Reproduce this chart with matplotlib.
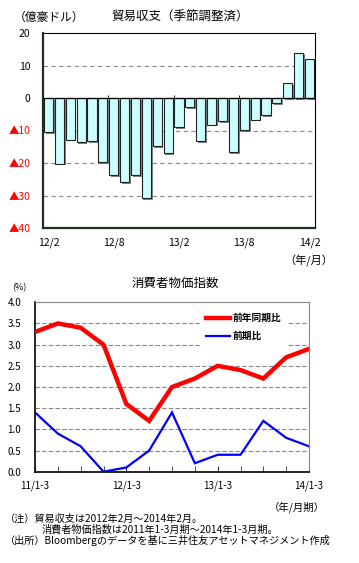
import matplotlib
matplotlib.use("Agg")
import matplotlib.pyplot as plt
import matplotlib.patheffects as pe
import numpy as np

plt.rcParams["font.family"] = ["Noto Sans CJK JP", "DejaVu Sans"]

# ── データ ────────────────────────────────────────────
meses      = ["12/2", "12/3", "12/4", "12/5", "12/6", "12/7", "12/8", "12/9",
              "12/10", "12/11", "12/12", "13/1", "13/2", "13/3", "13/4", "13/5",
              "13/6", "13/7", "13/8", "13/9", "13/10", "13/11", "13/12", "14/1",
              "14/2"]
balanza    = [-10.5, -20.2, -12.8, -13.5, -13.2, -19.7, -23.7, -25.8, -23.7,
              -30.9, -14.9, -16.9, -8.9, -2.8, -13.2, -8.2, -7.2, -16.7,
              -9.8, -6.7, -5.2, -1.5, 4.6, 14.0, 12.0]
meses_tick = ["12/2", "12/8", "13/2", "13/8", "14/2"]
y_ticks1   = [20, 10, 0, -10, -20, -30, -40]
y_labels1  = ["20", "10", "0", "▲10", "▲20", "▲30", "▲40"]

trimestres   = ["11/1-3", "11/4-6", "11/7-9", "11/10-12", "12/1-3", "12/4-6",
                "12/7-9", "12/10-12", "13/1-3", "13/4-6", "13/7-9", "13/10-12",
                "14/1-3"]
ipc_anual    = [3.3, 3.5, 3.4, 3.0, 1.6, 1.2, 2.0, 2.2, 2.5, 2.4, 2.2, 2.7, 2.9]
ipc_trim     = [1.4, 0.9, 0.6, 0.0, 0.1, 0.5, 1.4, 0.2, 0.4, 0.4, 1.2, 0.8, 0.6]
trim_tick    = ["11/1-3", "12/1-3", "13/1-3", "14/1-3"]

C_BARRA = "#ccffff"
C_GRID  = "#888888"

fig = plt.figure(figsize=(3.59, 5.63), dpi=100, facecolor="white")

# ── Grafica 1: balanza comercial ──────────────────────
ax1 = fig.add_axes([43 / 359, 1 - 228 / 563, 272 / 359, 195 / 563])
x1 = np.arange(len(balanza))
ax1.set_xlim(-0.5, len(balanza) - 0.5)
ax1.set_ylim(-40, 20)
for v in [10, -10, -20, -30]:
    ax1.axhline(v, color=C_GRID, linewidth=0.8, linestyle=(0, (4, 3)), zorder=1)
ax1.bar(x1, balanza, width=0.84, color=C_BARRA, edgecolor="#222222",
        linewidth=0.8, zorder=3,
        path_effects=[pe.SimplePatchShadow(offset=(1.2, -1.2),
                                           shadow_rgbFace="#777777", alpha=0.9),
                      pe.Normal()])
ax1.axhline(0, color="black", linewidth=0.9, zorder=4)
idx_tick = [meses.index(m) for m in meses_tick]
for i in idx_tick[1:-1]:
    ax1.vlines(i - 0.5, 0, 1.0, color="#333333", linewidth=0.8, zorder=4)
ax1.set_xticks(idx_tick)
ax1.set_xticklabels(meses_tick, fontsize=7.5)
ax1.set_yticks(y_ticks1)
ax1.set_yticklabels(y_labels1, fontsize=7.5)
for lab, v in zip(ax1.get_yticklabels(), y_ticks1):
    if v < 0:
        lab.set_color("#ff0000")
ax1.tick_params(axis="both", length=0)
ax1.tick_params(axis="y", pad=9)
ax1.tick_params(axis="x", pad=7)
for s in ["left", "bottom"]:
    ax1.spines[s].set_linewidth(1.6)
    ax1.spines[s].set_color("#1f2f1f")
for s in ["top", "right"]:
    ax1.spines[s].set_linewidth(0.8)
fig.text(14 / 359, 1 - 17 / 563, "（億豪ドル）", fontsize=8.5, va="center")
fig.text(180 / 359, 1 - 17 / 563, "貿易収支（季節調整済）", fontsize=9,
         ha="center", va="center")
fig.text(333 / 359, 1 - 261 / 563, "（年/月）", fontsize=8, ha="right", va="center")

# ── Grafica 2: IPC ────────────────────────────────────
ax2 = fig.add_axes([35 / 359, 1 - 471.7 / 563, 274 / 359, 169.4 / 563])
x2 = np.arange(len(trimestres))
ax2.set_xlim(0, len(trimestres) - 1)
ax2.set_ylim(0, 4.0)
for v in np.arange(0.5, 4.0, 0.5):
    ax2.axhline(v, color=C_GRID, linewidth=0.8, linestyle=(0, (4, 2)), zorder=1)
ax2.plot(x2, ipc_anual, color="#ff0000", linewidth=3.2, label="前年同期比",
         solid_joinstyle="miter", zorder=3)
ax2.plot(x2, ipc_trim, color="#0000ff", linewidth=1.6, label="前期比",
         solid_joinstyle="miter", zorder=3)
ax2.set_yticks(np.arange(0, 4.01, 0.5))
ax2.set_yticklabels([f"{v:.1f}" for v in np.arange(0, 4.01, 0.5)], fontsize=7)
ax2.set_xticks(x2, minor=True)
ax2.set_xticks([trimestres.index(t) for t in trim_tick])
ax2.set_xticklabels(trim_tick, fontsize=7)
ax2.tick_params(axis="x", which="both", direction="in", length=4, color="#333333")
ax2.tick_params(axis="y", length=0, pad=10)
ax2.tick_params(axis="x", pad=6)
for s in ["left", "bottom"]:
    ax2.spines[s].set_linewidth(1.2)
for s in ["top", "right"]:
    ax2.spines[s].set_color(C_GRID)
    ax2.spines[s].set_linewidth(0.8)
leg = ax2.legend(loc="upper right", bbox_to_anchor=(0.92, 0.97), fontsize=7,
                 frameon=True, fancybox=False, edgecolor="white",
                 handlelength=2.4, handletextpad=0.3, labelspacing=0.8,
                 borderpad=0.6, borderaxespad=0)
leg.get_frame().set_facecolor("white")
leg.get_frame().set_alpha(1)
leg.set_zorder(5)
for t in leg.get_texts():
    t.set_fontweight("bold")

fig.text(12 / 359, 1 - 288 / 563, "(%)", fontsize=6.5, va="center")
fig.text(175 / 359, 1 - 283 / 563, "消費者物価指数", fontsize=9,
         ha="center", va="center")
fig.text(325 / 359, 1 - 507 / 563, "（年/月期）", fontsize=7.5, ha="right",
         va="center")

# ── Notas ─────────────────────────────────────────────
fig.text(5 / 359, 1 - 519 / 563, "（注）貿易収支は2012年2月～2014年2月。",
         fontsize=7.3, va="center")
fig.text(42 / 359, 1 - 530 / 563,
         "消費者物価指数は2011年1-3月期～2014年1-3月期。",
         fontsize=7.3, va="center")
fig.text(5 / 359, 1 - 541 / 563,
         "（出所）Bloombergのデータを基に三井住友アセットマネジメント作成",
         fontsize=7.3, va="center")

plt.savefig("out.png", dpi=100, facecolor="white")
